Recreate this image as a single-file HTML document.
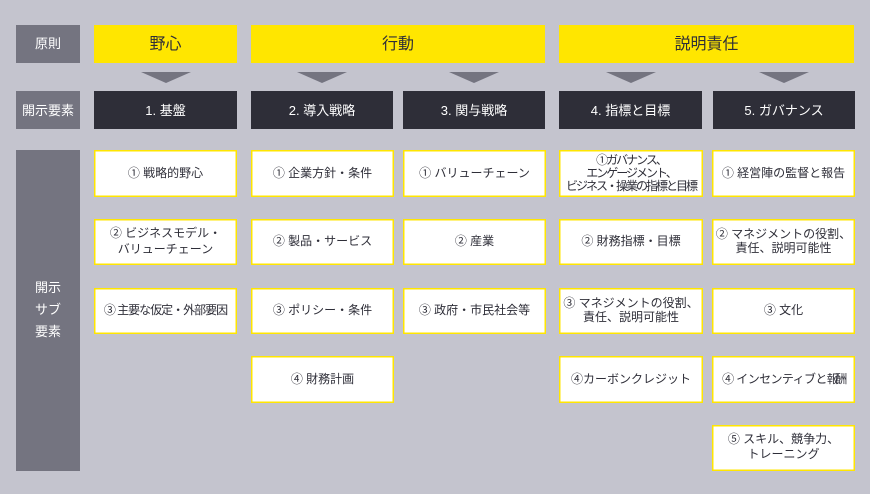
<!DOCTYPE html>
<html lang="ja"><head><meta charset="utf-8"><style>
html,body{margin:0;padding:0}
body{width:870px;height:494px;background:#c4c4ce;position:relative;overflow:hidden;font-family:"Liberation Sans","WenQuanYi Zen Hei","Noto Sans CJK JP",sans-serif}
div{position:absolute;box-sizing:border-box;display:flex;align-items:center;justify-content:center;text-align:center}
.g{left:16px;width:64px;background:#747480;color:#fff;font-size:13px;padding-bottom:3px}
.y{top:25px;height:38px;background:#ffe600;color:#2e2e38;font-size:16px;padding-bottom:4px}
.d{top:91px;height:38px;background:#2e2e38;color:#fff;font-size:13px;padding-bottom:2px}
.w{background:#fff;border:1px solid #ffe600;box-shadow:inset 0 0 0 .5px #ffe600;color:#2e2e38;font-size:12px;line-height:14px;white-space:nowrap;padding-bottom:2px}
.a{top:72px;width:50px;height:11px;background:#747480;clip-path:polygon(0 0,100% 0,50% 100%)}
.c1{left:94px;width:143px}.c2{left:251px;width:143px}.c3{left:403px;width:143px}.c4{left:559px;width:144px}.c5{left:712px;width:143px}
.r1{top:150px;height:47px}.r2{top:219px;height:46px}.r3{top:288px;height:46px}.r4{top:356px;height:47px}.r5{top:425px;height:46px}
</style></head><body>
<div class="g" style="top:25px;height:38px">原則</div>
<div class="g" style="top:91px;height:38px;padding-bottom:2px">開示要素</div>
<div class="g" style="top:150px;height:321px;display:block;padding:127px 0 0;line-height:22px">開示<br>サブ<br>要素</div>
<div class="y" style="left:94px;width:143px">野心</div>
<div class="y" style="left:251px;width:294px">行動</div>
<div class="y" style="left:559px;width:295px">説明責任</div>
<div class="a" style="left:141px"></div>
<div class="a" style="left:297px"></div>
<div class="a" style="left:449px"></div>
<div class="a" style="left:606px"></div>
<div class="a" style="left:759px"></div>
<div class="d" style="left:94px;width:143px">1. 基盤</div>
<div class="d" style="left:251px;width:142px">2. 導入戦略</div>
<div class="d" style="left:403px;width:142px">3. 関与戦略</div>
<div class="d" style="left:559px;width:143px">4. 指標と目標</div>
<div class="d" style="left:713px;width:142px">5. ガバナンス</div>

<div class="w c1 r1">① 戦略的野心</div>
<div class="w c1 r2" style="line-height:16px">② ビジネスモデル・<br>バリューチェーン</div>
<div class="w c1 r3" style="letter-spacing:-1px">③ 主要な仮定・外部要因</div>

<div class="w c2 r1">① 企業方針・条件</div>
<div class="w c2 r2">② 製品・サービス</div>
<div class="w c2 r3">③ ポリシー・条件</div>
<div class="w c2 r4">④ 財務計画</div>

<div class="w c3 r1">① バリューチェーン</div>
<div class="w c3 r2">② 産業</div>
<div class="w c3 r3">③ 政府・市民社会等</div>

<div class="w c4 r1" style="letter-spacing:-2px;line-height:13px;padding-bottom:0">①ガバナンス、<br>エンゲージメント、<br>ビジネス・操業の指標と目標</div>
<div class="w c4 r2">② 財務指標・目標</div>
<div class="w c4 r3">③ マネジメントの役割、<br>責任、説明可能性</div>
<div class="w c4 r4">④カーボンクレジット</div>

<div class="w c5 r1">① 経営陣の監督と報告</div>
<div class="w c5 r2">② マネジメントの役割、<br>責任、説明可能性</div>
<div class="w c5 r3">③ 文化</div>
<div class="w c5 r4" style="letter-spacing:-.6px;padding-right:1px">④ インセンティブと<span style="letter-spacing:-3.5px">報酬</span></div>
<div class="w c5 r5" style="line-height:15px">⑤ スキル、競争力、<br>トレーニング</div>
</body></html>
